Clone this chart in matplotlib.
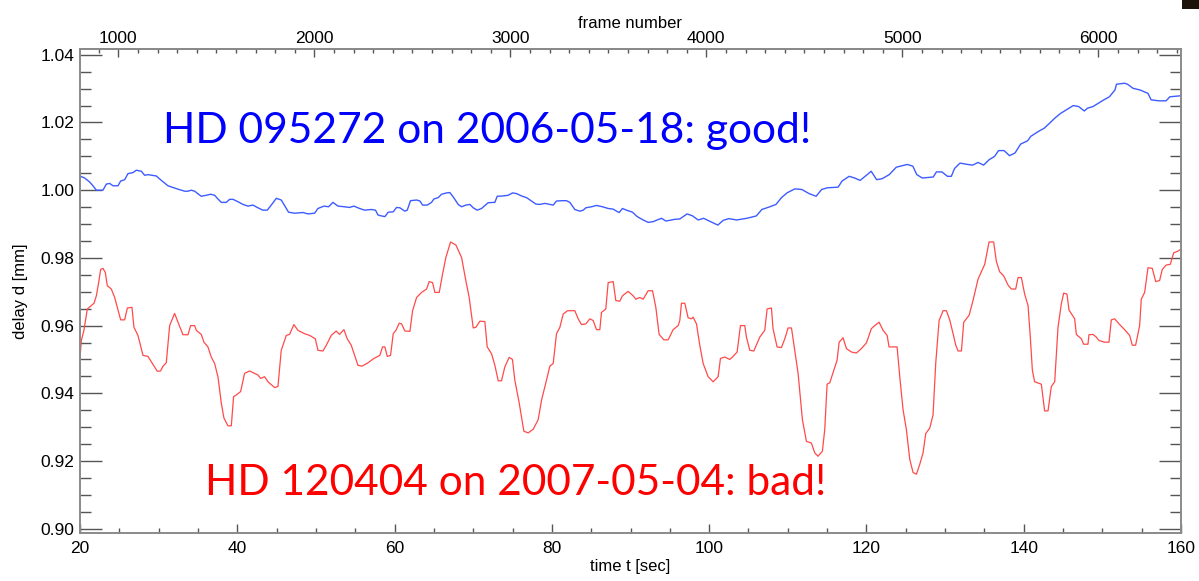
import matplotlib
matplotlib.use("Agg")
import matplotlib.pyplot as plt
from matplotlib.ticker import MultipleLocator, FixedLocator
from matplotlib.patches import Rectangle

# ---------------- data ----------------
blue_t = [19.96, 20.59, 21.23, 21.65, 22.08, 22.92, 23.35, 23.77, 24.2, 24.83, 25.17, 25.68, 26.1, 26.74,
          27.16, 27.8, 28.22, 28.64, 29.7, 30.34, 31.19, 31.82, 32.46, 33.31, 33.73, 34.15, 34.58, 35.42,
          36.06, 36.61, 37.12, 37.46, 37.97, 38.6, 39.03, 39.45, 40.08, 40.72, 41.36, 41.99, 42.63, 43.26,
          43.81, 44.32, 44.96, 45.59, 46.1, 46.52, 47.29, 48.35, 48.98, 49.83, 50.26, 51.02, 51.61, 52.16,
          52.8, 53.64, 54.28, 54.83, 55.55, 56.19, 57.03, 57.58, 57.88,
          58.13, 58.77, 59.19, 59.83, 60.25, 60.68, 61.31, 61.61, 62.03, 62.8, 63.22, 63.56, 64.15, 64.7,
          65.0, 65.55, 65.97, 66.61, 67.03, 67.46, 68.09, 68.52, 69.07, 69.58, 70.0, 70.51, 71.06, 71.9,
          72.75, 73.05, 73.81, 74.45, 75.0, 75.51, 76.14, 76.78, 77.41, 77.97, 78.47, 79.11, 79.74, 80.17,
          80.59, 81.36, 81.86, 82.29, 82.92, 83.56, 83.98, 84.32, 85.04, 85.68, 86.44, 87.16, 87.8, 88.3,
          88.56, 88.98, 89.49, 90.25, 90.85, 91.61, 92.24, 92.88, 93.39, 93.94, 94.49, 95.0, 95.64, 96.27,
          97.2, 97.9, 98.6, 99.3, 100.0, 101.1, 101.8, 102.5, 103.5, 104.8, 106.0, 106.7, 107.6, 108.5,
          109.2, 109.9, 110.9, 111.8, 112.7, 113.6, 114.3, 115.0, 116.4, 116.9, 117.8, 118.5, 119.2, 120.1,
          120.6, 121.3, 122.0, 122.9, 123.8, 125.2, 125.9, 126.4, 127.1, 128.5, 128.9, 129.6, 130.3, 130.8,
          131.2, 131.9, 132.9, 133.5, 134.2, 134.9, 135.6, 136.3, 136.8, 137.5, 138.2, 138.9, 139.6, 140.5,
          140.9, 141.9, 142.6, 143.3, 143.96, 144.7, 145.4, 146.3, 147.0, 147.7, 148.1, 148.8, 149.5, 150.2,
          150.9, 151.6, 151.8, 152.8, 153.2, 153.9, 154.8, 155.8, 156.2, 157.2, 158.1, 158.6, 159.5, 160.0]
blue_d = [1.0042, 1.0036, 1.0024, 1.0013, 1.0000, 1.0000, 1.0018, 1.0020, 1.0013, 1.0013, 1.0027, 1.0031,
          1.0049, 1.0052, 1.0059, 1.0056, 1.0044, 1.0046, 1.0042, 1.0029, 1.0013, 1.0008, 1.0003, 0.9997,
          0.9997, 1.0000, 0.9997, 0.9982, 0.9985, 0.9988, 0.9985, 0.9976, 0.9964, 0.9964, 0.9973, 0.9973,
          0.9966, 0.9958, 0.9953, 0.9956, 0.9948, 0.9941, 0.9941, 0.9956, 0.9976, 0.9971, 0.9951, 0.9935,
          0.9932, 0.9934, 0.9930, 0.9932, 0.9946, 0.9953, 0.9951, 0.9964, 0.9953, 0.9951, 0.9949, 0.9953,
          0.9946, 0.9941, 0.9943, 0.9941, 0.9927,
          0.9925, 0.9922, 0.9935, 0.9936, 0.9949, 0.9948, 0.9938, 0.9941, 0.9969, 0.9971, 0.9968, 0.9956,
          0.9956, 0.9964, 0.9974, 0.9978, 0.9988, 0.9992, 0.9993, 0.9980, 0.9958, 0.9951, 0.9956, 0.9958,
          0.9948, 0.9941, 0.9946, 0.9963, 0.9964, 0.9982, 0.9983, 0.9985, 0.9992, 0.9990, 0.9983, 0.9978,
          0.9968, 0.9959, 0.9958, 0.9961, 0.9958, 0.9956, 0.9968, 0.9969, 0.9969, 0.9964, 0.9943, 0.9938,
          0.9941, 0.9948, 0.9951, 0.9955, 0.9951, 0.9946, 0.9944, 0.9937, 0.9934, 0.9946, 0.9941, 0.9935,
          0.9922, 0.9912, 0.9905, 0.9907, 0.9912, 0.9917, 0.9909, 0.9911, 0.9914, 0.9915,
          0.9930, 0.9924, 0.9912, 0.9917, 0.9909, 0.9897, 0.9911, 0.9916, 0.9912, 0.9917, 0.9924, 0.9943,
          0.9950, 0.9958, 0.9978, 0.9992, 1.0004, 1.0002, 0.9990, 0.9982, 1.0002, 1.0007, 1.0009, 1.0027,
          1.0041, 1.0036, 1.0029, 1.0046, 1.0056, 1.0031, 1.0034, 1.0046, 1.0068, 1.0076, 1.0071, 1.0046,
          1.0036, 1.0039, 1.0054, 1.0054, 1.0041, 1.0041, 1.0064, 1.0080, 1.0076, 1.0074, 1.0082, 1.0074,
          1.0090, 1.0100, 1.0117, 1.0117, 1.0102, 1.0110, 1.0136, 1.0146, 1.0159, 1.0174, 1.0183, 1.0198,
          1.0213, 1.0227, 1.0237, 1.0250, 1.0247, 1.0234, 1.0242, 1.0247, 1.0257, 1.0267, 1.0276, 1.0296,
          1.0313, 1.0316, 1.0313, 1.0301, 1.0296, 1.0286, 1.0267, 1.0264, 1.0264, 1.0276, 1.0278, 1.0279]

red_t = [20.0, 20.17, 20.5, 20.93, 21.44, 21.78, 22.08, 22.37, 22.63, 22.92, 23.22, 23.47, 23.98, 24.41,
         24.75, 25.17, 25.68, 26.02, 26.61, 26.86, 27.37, 28.01, 28.64, 29.07, 29.83, 30.25, 30.55, 30.97,
         31.19, 31.4, 32.03, 32.46, 33.09, 33.73, 34.07, 34.58, 34.79, 35.42, 35.76, 36.27, 36.69, 37.12,
         37.54, 37.97, 38.3, 38.81, 39.24, 39.53, 39.87, 40.42, 40.93, 41.57, 41.99, 42.63, 42.97, 43.47,
         43.9, 44.75, 45.17, 45.59, 46.23, 46.65, 47.2, 47.71, 48.56, 49.2, 49.92, 50.26, 50.89, 51.32,
         51.95, 52.58, 53.0, 53.56, 53.98, 54.49, 54.92, 55.34, 55.85, 56.61, 57.37, 58.13, 58.47, 58.77,
         59.07, 59.49, 59.83, 60.17, 60.59, 60.89, 61.31, 61.95, 62.29, 62.8, 63.43, 64.07, 64.4, 64.83,
         65.13, 65.68, 66.1, 66.52, 67.12, 67.8, 68.52, 69.07, 69.49, 70.0, 70.34, 70.85, 71.48, 71.78,
         72.33, 72.75, 73.18, 73.6, 74.02, 74.57, 74.99, 75.29, 75.85, 76.44, 76.99, 77.63, 78.26, 78.69,
         79.32, 79.74, 80.17, 80.59, 81.02, 81.44, 81.99, 82.92, 83.35, 83.77, 84.32, 84.83, 85.25, 85.68,
         86.1, 86.31, 86.86, 87.16, 87.8, 88.13, 88.64, 88.98, 89.7, 90.34, 90.68, 91.19, 91.61, 92.24,
         92.8, 93.22, 93.64, 94.24, 94.79, 95.42, 96.06, 96.27, 96.48, 96.91, 97.33, 97.75, 97.96, 98.39,
         98.81, 99.24, 99.87, 100.51, 101.14, 101.44, 101.99, 102.63, 102.96, 103.56, 103.98, 104.53,
         104.74, 105.17, 105.68, 106.44, 107.07, 107.37, 107.92, 108.13, 108.64, 109.19, 109.62, 110.04,
         110.47, 110.89, 111.31, 111.86, 112.37, 113.0, 113.43, 113.85, 114.4, 114.7, 115.0, 115.34,
         115.85, 116.27, 116.53, 117.03, 117.46, 118.09, 118.73, 119.36, 120.0, 120.63, 121.06, 121.61,
         122.12, 122.63, 122.88, 123.9, 124.24, 124.66, 125.08, 125.51, 125.93, 126.36, 126.78, 127.2,
         127.54, 128.05, 128.47, 128.81, 129.24, 129.75, 130.17, 130.59, 131.02, 131.36, 131.65, 132.08,
         132.37, 133.05, 133.55, 134.19, 135.04, 135.59, 136.18, 136.52, 136.94, 137.45, 138.0, 138.43,
         138.98, 139.28, 139.7, 140.12, 140.55, 140.84, 141.1, 141.39, 142.24, 142.66, 143.09, 143.51,
         143.94, 144.36, 144.78, 145.08, 145.5, 145.76, 146.48, 146.69, 147.33, 147.62, 148.17, 148.3,
         148.81, 149.23, 149.57, 150.29, 150.84, 151.14, 151.56, 152.2, 152.83, 153.47, 153.81, 154.23,
         154.74, 154.95, 155.38, 155.8, 156.35, 156.78, 157.28, 157.62, 158.13, 158.64, 159.07, 159.62, 160.0]
red_d = [0.9503, 0.9556, 0.9586, 0.9649, 0.9659, 0.9666, 0.9688, 0.9727, 0.9766, 0.9769, 0.9757, 0.9718,
         0.9708, 0.9683, 0.9654, 0.9617, 0.9617, 0.9652, 0.9654, 0.9595, 0.9571, 0.9512, 0.9509, 0.9493,
         0.9465, 0.9466, 0.9480, 0.9490, 0.9547, 0.9600, 0.9636, 0.9610, 0.9573, 0.9573, 0.9600, 0.9600,
         0.9586, 0.9574, 0.9551, 0.9537, 0.9507, 0.9488, 0.9449, 0.9371, 0.9327, 0.9304, 0.9304, 0.9390,
         0.9395, 0.9405, 0.9459, 0.9466, 0.9461, 0.9454, 0.9444, 0.9449, 0.9434, 0.9417, 0.9420, 0.9527,
         0.9571, 0.9574, 0.9603, 0.9586, 0.9576, 0.9571, 0.9561, 0.9527, 0.9525, 0.9542, 0.9571, 0.9584,
         0.9574, 0.9588, 0.9561, 0.9542, 0.9512, 0.9483, 0.9480, 0.9490, 0.9503, 0.9512, 0.9537, 0.9537,
         0.9509, 0.9512, 0.9576, 0.9586, 0.9607, 0.9605, 0.9584, 0.9583, 0.9644, 0.9683, 0.9698, 0.9708,
         0.9730, 0.9727, 0.9698, 0.9698, 0.9752, 0.9801, 0.9847, 0.9838, 0.9801, 0.9732, 0.9683, 0.9593,
         0.9595, 0.9613, 0.9612, 0.9537, 0.9517, 0.9483, 0.9437, 0.9437, 0.9478, 0.9506, 0.9500, 0.9439,
         0.9371, 0.9288, 0.9283, 0.9294, 0.9322, 0.9380, 0.9439, 0.9480, 0.9488, 0.9576, 0.9595, 0.9634,
         0.9644, 0.9644, 0.9620, 0.9603, 0.9605, 0.9620, 0.9615, 0.9588, 0.9588, 0.9639, 0.9649, 0.9727,
         0.9730, 0.9674, 0.9672, 0.9688, 0.9701, 0.9688, 0.9678, 0.9683, 0.9678, 0.9703, 0.9703, 0.9654,
         0.9574, 0.9558, 0.9558, 0.9588, 0.9600, 0.9615, 0.9666, 0.9666, 0.9623, 0.9620, 0.9625, 0.9605,
         0.9542, 0.9488, 0.9449, 0.9434, 0.9449, 0.9503, 0.9507, 0.9500, 0.9507, 0.9522, 0.9600, 0.9600,
         0.9566, 0.9527, 0.9525, 0.9566, 0.9586, 0.9649, 0.9652, 0.9590, 0.9537, 0.9535, 0.9561, 0.9593,
         0.9593, 0.9527, 0.9459, 0.9322, 0.9258, 0.9253, 0.9224, 0.9214, 0.9229, 0.9293, 0.9427, 0.9431,
         0.9468, 0.9498, 0.9551, 0.9564, 0.9532, 0.9522, 0.9519, 0.9532, 0.9549, 0.9591, 0.9600, 0.9610,
         0.9586, 0.9571, 0.9537, 0.9537, 0.9449, 0.9351, 0.9293, 0.9205, 0.9166, 0.9161, 0.9190, 0.9224,
         0.9281, 0.9297, 0.9336, 0.9488, 0.9615, 0.9644, 0.9644, 0.9617, 0.9576, 0.9542, 0.9525, 0.9525,
         0.9610, 0.9630, 0.9674, 0.9737, 0.9781, 0.9847, 0.9847, 0.9790, 0.9759, 0.9747, 0.9720, 0.9708,
         0.9708, 0.9742, 0.9742, 0.9693, 0.9659, 0.9566, 0.9468, 0.9434, 0.9427, 0.9348, 0.9348, 0.9420,
         0.9434, 0.9595, 0.9664, 0.9696, 0.9693, 0.9646, 0.9620, 0.9574, 0.9561, 0.9545, 0.9545, 0.9573,
         0.9574, 0.9566, 0.9556, 0.9551, 0.9551, 0.9617, 0.9620, 0.9603, 0.9588, 0.9571, 0.9542, 0.9542,
         0.9600, 0.9678, 0.9698, 0.9771, 0.9769, 0.9730, 0.9733, 0.9766, 0.9779, 0.9781, 0.9815, 0.9820, 0.9826]

blue_label = "HD 095272 on 2006-05-18: good!"
red_label = "HD 120404 on 2007-05-04: bad!"
x_label = "time t [sec]"
y_label = "delay d [mm]"
top_label = "frame number"
frame_ticks = [1000, 2000, 3000, 4000, 5000, 6000]
FRAMES_PER_SEC = 40.12
FRAME_OFFSET = 2.2

# ---------------- figure ----------------
plt.rcParams['font.family'] = ['Liberation Sans', 'DejaVu Sans']
fig = plt.figure(figsize=(11.99, 5.81), dpi=100)
ax = fig.add_axes([80 / 1199, 1 - 533 / 581, (1181 - 80) / 1199, (533 - 49) / 581])

ax.plot(red_t, red_d, color='#ff4a4a', lw=0.9)
ax.plot(blue_t, blue_d, color='#3d5cff', lw=1.0)

ax.set_xlim(20, 160)
ax.set_ylim(0.89873, 1.04171)

spine_col = '#8a8a8a'
for s in ax.spines.values():
    s.set_color(spine_col)
    s.set_linewidth(1.4)

tick_col = '#555555'
ax.xaxis.set_major_locator(MultipleLocator(20))
ax.xaxis.set_minor_locator(MultipleLocator(5))
ax.yaxis.set_major_locator(MultipleLocator(0.02))
ax.yaxis.set_minor_locator(MultipleLocator(0.005))
ax.yaxis.set_major_formatter(matplotlib.ticker.FormatStrFormatter('%.2f'))
ax.tick_params(axis='x', which='major', direction='in', length=6.5, width=1, color=tick_col,
               labelsize=12.5, pad=6, top=False)
ax.tick_params(axis='x', which='minor', direction='in', length=3.6, width=1, color=tick_col, top=False)
ax.tick_params(axis='y', which='major', direction='in', length=16, width=1, color=tick_col,
               labelsize=12.5, pad=4, right=True)
ax.tick_params(axis='y', which='minor', direction='in', length=8, width=1, color=tick_col, right=True)

ax.set_xlabel(x_label, fontsize=12, labelpad=2)
ax.set_ylabel(y_label, fontsize=12, labelpad=9)

sec = ax.secondary_xaxis('top', functions=(lambda t: t * FRAMES_PER_SEC + FRAME_OFFSET,
                                           lambda f: (f - FRAME_OFFSET) / FRAMES_PER_SEC))
sec.xaxis.set_major_locator(FixedLocator(frame_ticks))
sec.xaxis.set_minor_locator(MultipleLocator(100))
sec.tick_params(axis='x', which='major', direction='in', length=6, width=1, color=tick_col,
                labelsize=12.5, pad=2)
sec.tick_params(axis='x', which='minor', direction='in', length=2.6, width=1, color=tick_col)
sec.spines['top'].set_color(spine_col)
sec.spines['top'].set_linewidth(1.4)
sec.set_xlabel(top_label, fontsize=12, labelpad=2)

ax.text(30.55, 1.0139, blue_label, color='#0000ff', fontsize=30.6, family=['Lato', 'DejaVu Sans'],
        ha='left', va='baseline')
ax.text(35.89, 0.90996, red_label, color='#ff0000', fontsize=30.5, family=['Lato', 'DejaVu Sans'],
        ha='left', va='baseline')

fig.patches.append(Rectangle((1182 / 1199, 1 - 9 / 581), 17 / 1199, 9 / 581, transform=fig.transFigure,
                             facecolor='#1c140a', edgecolor='none'))

fig.savefig('out.png', dpi=100)
